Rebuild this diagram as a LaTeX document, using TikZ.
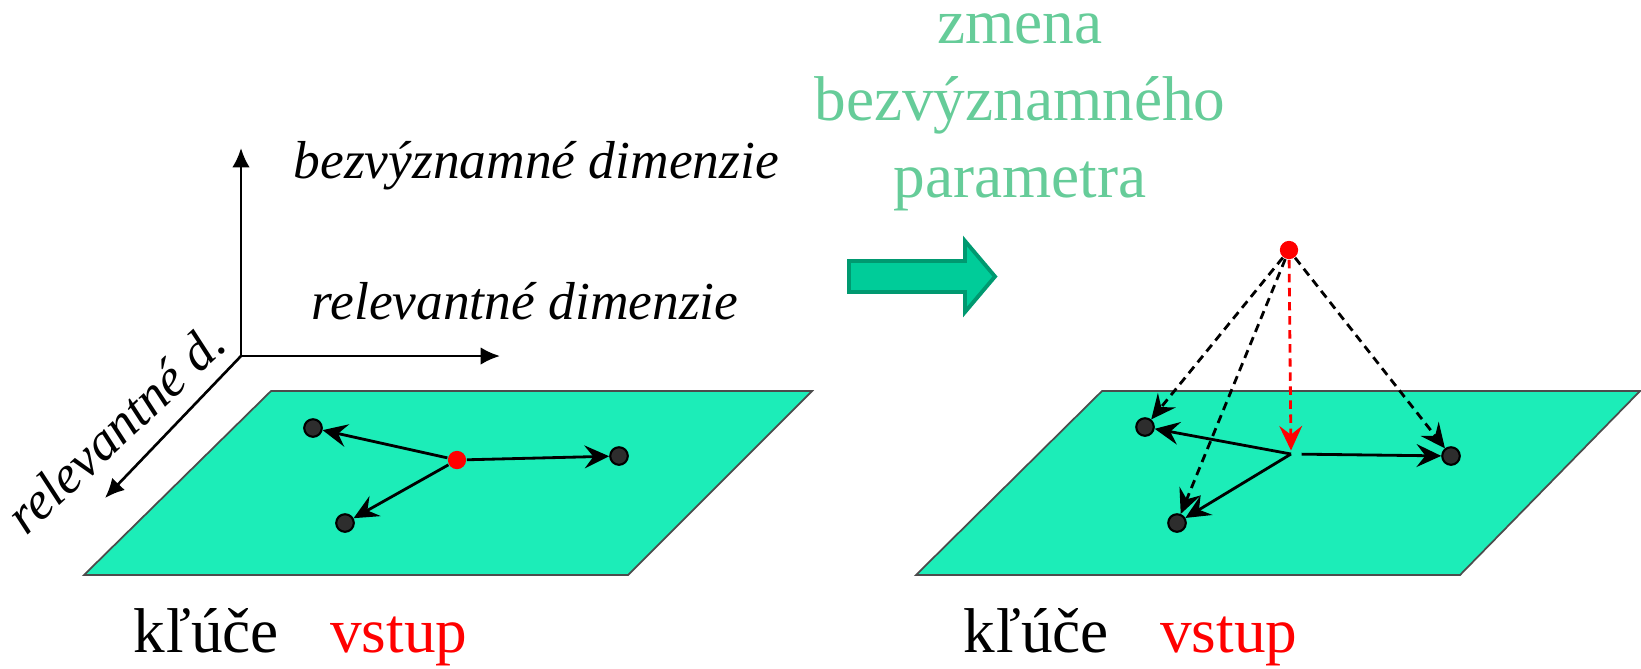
\documentclass[tikz,border=0pt]{standalone}
\usepackage{fontspec}
\setmainfont{Liberation Serif}
\usetikzlibrary{arrows.meta, positioning}

\definecolor{planegreen}{RGB}{28,237,184}
\definecolor{titlegreen}{RGB}{102,204,153}
\definecolor{bigfill}{RGB}{0,204,153}
\definecolor{bigline}{RGB}{0,153,112}
\definecolor{keygray}{RGB}{45,45,45}

\begin{document}
\begin{tikzpicture}[
      x=0.1mm, y=-0.1mm,
      plane/.style={
          fill=planegreen,
          draw=gray!60!black,
          line width=0.5pt
        },
      key/.style={
          circle,
          draw=black,
          fill=keygray,
          line width=0.6pt,
          inner sep=0pt,
          minimum size=5pt
        },
      query/.style={
          circle,
          fill=red,
          inner sep=0pt,
          minimum size=5.2pt
        },
      dimlabel/.style={
          font=\fontsize{15.2}{18}\selectfont\itshape,
          inner sep=0pt
        },
      caption/.style={
          font=\fontsize{18}{21.8}\selectfont,
          inner sep=0pt
        },
      axis/.style={
          -{Latex[length=5.5pt,width=5pt]},
          line width=0.75pt
        },
      move/.style={
          -{Stealth[length=7pt,width=6.5pt,inset=2.5pt]},
          line width=0.8pt
        },
      proj/.style={
          move,
          dash pattern=on 2.4pt off 1.6pt
        }
    ]
    \useasboundingbox (0,0) rectangle (1641,668);

    % Planes
    \filldraw[plane] (271,391) -- (812,391) -- (628,575) -- (84,575) -- cycle;
    \filldraw[plane] (1102,391) -- (1640,391) -- (1460,575) -- (916,575) -- cycle;

    % Axes
    \coordinate (o) at (241,356);
    \coordinate (up) at (241,148);
    \coordinate (right) at (500,356);
    \coordinate (depth) at (105,498);
    \draw[axis] (o) -- (up);
    \draw[axis] (o) -- (right);
    \draw[axis] (o) -- (depth);

    \node[dimlabel, anchor=base west] (irrel) at (293,178) {bezvýznamné dimenzie};
    \node[dimlabel, anchor=base west] (rel) at (311,319) {relevantné dimenzie};
    \node[dimlabel, anchor=base, rotate=43] (reld) at (128,442) {relevantné d.};

    % Left plane
    \node[query] (q) at (457,460) {};
    \node[key] (k1) at (313,428) {};
    \node[key] (k2) at (345,523) {};
    \node[key] (k3) at (619,456) {};
    \draw[move] (q) -- (k1);
    \draw[move] (q) -- (k2);
    \draw[move] (q) -- (k3);

    % Big arrow
    \filldraw[fill=bigfill, draw=bigline, line width=1.1pt, line join=miter]
      (849,261) -- (965,261) -- (965,241) -- (995,276.5) -- (965,312)
      -- (965,292) -- (849,292) -- cycle;

    \node[caption, text=titlegreen, align=center, anchor=base] (title) at (1020,197)
      {zmena\\bezvýznamného\\parametra};

    % Right plane
    \coordinate (p) at (1291,454);
    \node[key] (k4) at (1145,427) {};
    \node[key] (k5) at (1177,523) {};
    \node[key] (k6) at (1451,456) {};
    \draw[move] (p) -- (k4);
    \draw[move] (p) -- (k5);
    \draw[move, shorten <=3pt] (p) -- (k6);
    \node[query] (q2) at (1289,250) {};
    \draw[proj] (q2) -- (k4);
    \draw[proj] (q2) -- (k5);
    \draw[proj] (q2) -- (k6);
    \draw[proj, red, shorten >=1pt] (q2) -- (p);

    % Labels
    \node[caption, anchor=base west] (keysL) at (133,652) {kľúče};
    \node[caption, text=red, base right=5mm of keysL] (inL) {vstup};
    \node[caption, anchor=base west] (keysR) at (963,652) {kľúče};
    \node[caption, text=red, base right=5mm of keysR] (inR) {vstup};

  \end{tikzpicture}
\end{document}
